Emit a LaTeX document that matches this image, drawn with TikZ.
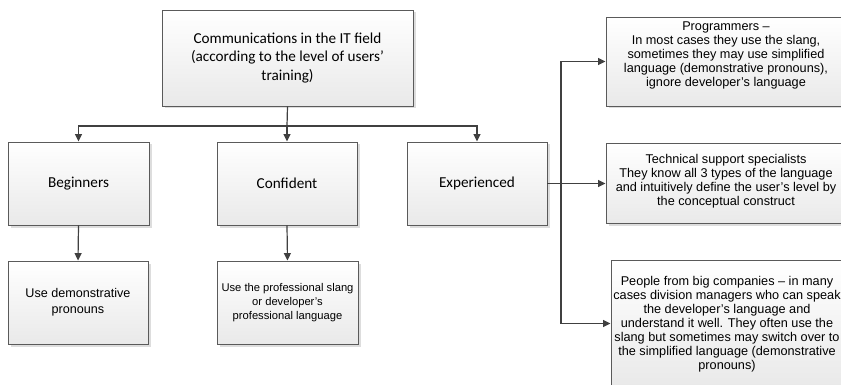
\documentclass[tikz,border=0pt]{standalone}
\usepackage{fontspec}
\setmainfont{Liberation Sans}
\newfontfamily\calibrifont{Carlito}[Ligatures=TeX]
\usetikzlibrary{arrows.meta,shadows}
\definecolor{boxline}{HTML}{5A5A5A}
\definecolor{conline}{HTML}{404040}
\definecolor{boxbot}{HTML}{E9E9E9}
\tikzset{
  box/.style={draw=boxline, line width=0.9pt, rectangle, top color=white, bottom color=boxbot,
    drop shadow={shadow xshift=2.5pt, shadow yshift=-2.5pt, fill=black!22, opacity=0.6},
    align=center, inner sep=0pt},
  calfont/.style={font=\calibrifont\fontsize{15.2}{18.8}\selectfont},
  rtxt/.style={align=center, inner sep=0pt, font=\fontsize{12.7}{14}\selectfont},
  line/.style={draw=conline, line width=1.2pt},
  arr/.style={line, -{Triangle[length=7.5pt,width=7pt]}},
}
\begin{document}
\begin{tikzpicture}[x=1pt,y=-1pt]
\useasboundingbox (0,0) rectangle (841,385);
\clip (0,0) rectangle (841,385);
\fill[white] (0,0) rectangle (841,385);

\node[box, calfont, minimum width=251pt, minimum height=96pt] (top) at (287.5,58)
  {Communications in the IT field\\(according to the level of users’\\training)};
\node[box, calfont, minimum width=141pt, minimum height=83pt] (beg) at (78.5,183.5) {Beginners};
\node[box, calfont, minimum width=140pt, minimum height=83pt] (conf) at (287,183.5) {Confident};
\node[box, calfont, minimum width=140pt, minimum height=83pt] (exp) at (477,183.5) {Experienced};

\node[box, font=\fontsize{12.6}{15.6}\selectfont, minimum width=140pt, minimum height=83pt] (begl) at (78,302.5)
  {Use demonstrative\\pronouns};
\node[box, font=\fontsize{11.2}{14.2}\selectfont, minimum width=141pt, minimum height=83pt] (confl) at (287.5,302.5)
  {Use the professional slang\\or developer’s\\professional language};

\node[box, minimum width=240pt, minimum height=89pt] (p1) at (726,61.5) {};
\node[rtxt] (p1t) at (726,55) {Programmers --\\In most cases they use the slang,\\sometimes they may use simplified\\language (demonstrative pronouns),\\ignore developer’s language};
\node[box, minimum width=240pt, minimum height=80pt] (p2) at (726,183.5) {};
\node[rtxt] (p2t) at (726,181.5) {Technical support specialists\\They know all 3 types of the language\\and intuitively define the user’s level by\\the conceptual construct};
\node[box, minimum width=234pt, minimum height=126pt] (p3) at (728,323.5) {};
\node[rtxt] (p3t) at (727,324) {People from big companies -- in many\\cases division managers who can speak\\the developer’s language and\\understand it well. They often use the\\slang but sometimes may switch over to\\the simplified language (demonstrative\\pronouns)};

\coordinate (bar) at (287,126);
\coordinate (trunk) at (561,183.5);
\draw[line] (top.south) -- (bar);
\draw[arr] (bar) -| (beg.north);
\draw[arr] (bar) -| (exp.north);
\draw[arr] (bar) -- (conf.north);
\draw[arr] (beg.south) -- (begl.north);
\draw[arr] (conf.south) -- (confl.north);
\draw[line, line width=1.8pt] (exp.east) -- (trunk);
\draw[arr] (trunk) -- (p2.west);
\draw[arr] (trunk) |- (p1.west);
\draw[arr] (trunk) |- (p3.west);
\end{tikzpicture}
\end{document}
